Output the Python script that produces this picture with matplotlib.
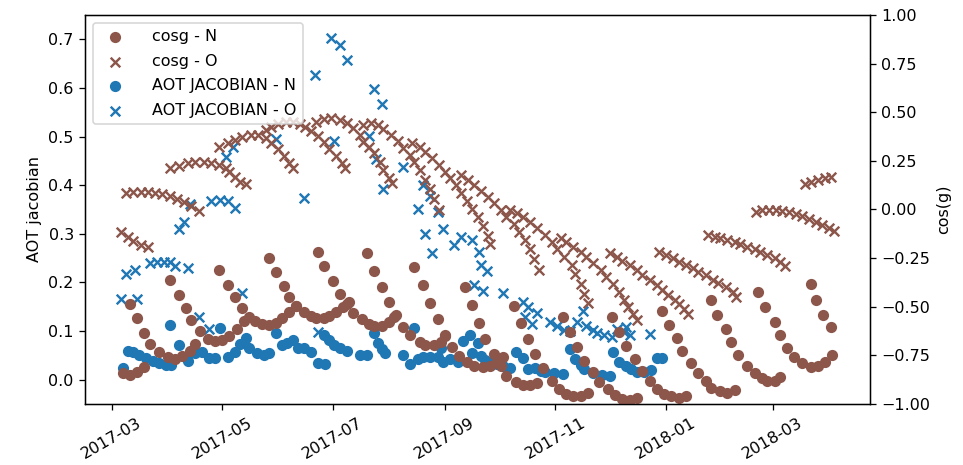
import matplotlib
matplotlib.use("Agg")
import matplotlib.pyplot as plt
import matplotlib.dates as mdates
import pandas as pd

BASE = "2017-03-01"

# cos(g) - N  (days since 2017-03-01, value)
cosg_n_days = [6, 10, 14, 18,
               10, 14, 18, 21, 26, 31, 35, 39, 43, 46,
               32, 37, 41, 44, 49, 53, 57, 61, 65, 69, 73,
               59, 64, 68, 72, 76, 79, 83, 87, 91, 94, 98, 102,
               87, 91, 95, 98, 102, 106, 110, 113, 117, 120, 124, 128, 131,
               114, 117, 122, 126, 130, 133, 138, 142, 145, 149, 153, 156,
               141, 145, 149, 153, 157, 161, 165, 170, 173, 178, 182, 184,
               167, 172, 176, 180, 184, 188, 192, 196, 200, 205, 209, 213, 216,
               195, 199, 203, 206, 211, 215, 218, 223, 227, 231, 235,
               222, 226, 230, 234, 238, 243, 247, 251, 255, 259, 263,
               249, 253, 257, 261, 266, 269, 274, 278, 282, 286, 290,
               276, 280, 284, 289, 293, 297, 301, 305, 309, 313, 317,
               304, 308, 312, 315, 320, 324, 328, 331, 336, 340, 344,
               331, 334, 339, 342, 346, 351, 355, 359, 362, 366, 369,
               357, 361, 366, 369, 373, 377, 381, 386, 390, 394, 398,
               386, 389, 393, 397]
cosg_n_vals = [-0.838, -0.849, -0.833, -0.807,
               -0.484, -0.556, -0.633, -0.689, -0.730, -0.756, -0.766, -0.751, -0.725, -0.689,
               -0.361, -0.438, -0.505, -0.566, -0.623, -0.664, -0.674, -0.669, -0.648, -0.612, -0.571,
               -0.309, -0.386, -0.448, -0.505, -0.551, -0.571, -0.587, -0.592, -0.582, -0.556, -0.525, -0.494,
               -0.248, -0.320, -0.392, -0.448, -0.494, -0.525, -0.546, -0.556, -0.556, -0.546, -0.525, -0.499, -0.474,
               -0.217, -0.289, -0.366, -0.433, -0.484, -0.530, -0.561, -0.587, -0.597, -0.597, -0.576, -0.551,
               -0.222, -0.315, -0.397, -0.474, -0.540, -0.602, -0.643, -0.679, -0.694, -0.694, -0.679, -0.648,
               -0.294, -0.386, -0.479, -0.561, -0.643, -0.705, -0.751, -0.782, -0.802, -0.807, -0.802, -0.782, -0.756,
               -0.397, -0.489, -0.582, -0.664, -0.741, -0.802, -0.854, -0.884, -0.900, -0.900, -0.890,
               -0.494, -0.582, -0.664, -0.741, -0.813, -0.879, -0.920, -0.946, -0.961, -0.961, -0.941,
               -0.551, -0.628, -0.705, -0.777, -0.833, -0.884, -0.920, -0.951, -0.972, -0.977, -0.967,
               -0.551, -0.628, -0.700, -0.766, -0.828, -0.879, -0.920, -0.946, -0.961, -0.967, -0.961,
               -0.520, -0.592, -0.659, -0.725, -0.787, -0.838, -0.879, -0.915, -0.931, -0.941, -0.926,
               -0.463, -0.540, -0.612, -0.679, -0.746, -0.802, -0.838, -0.864, -0.879, -0.879, -0.859,
               -0.422, -0.499, -0.576, -0.643, -0.710, -0.756, -0.787, -0.807, -0.802, -0.782, -0.746,
               -0.381, -0.463, -0.540, -0.602]

# cos(g) - O
cosg_o_days = [5, 9, 12, 16, 20,
               8, 12, 16, 20, 24, 28, 32, 36, 40, 44, 48,
               32, 37, 42, 46, 51, 55, 59, 63, 65, 68, 71, 74,
               59, 64, 68, 72, 77, 81, 85, 88, 92, 95, 98, 100,
               85, 88, 92, 96, 100, 104, 107, 110, 114, 117, 120, 124, 127, 129,
               113, 117, 121, 126, 130, 133, 137, 139, 142, 145, 148, 150, 153, 155,
               139, 143, 147, 150, 154, 158, 161, 165, 167, 170, 173, 176, 178, 181,
               166, 170, 173, 177, 181, 184, 187, 190, 193, 196, 199, 202, 205, 208, 209,
               193, 197, 200, 204, 208, 211, 215, 218, 222, 225, 228, 231, 233, 236,
               220, 224, 227, 231, 235, 239, 243, 246, 250, 254, 256, 259, 261, 263,
               248, 251, 255, 259, 262, 266, 270, 273, 277, 280, 283, 285, 288, 290,
               275, 279, 282, 286, 290, 293, 297, 301, 304, 307, 311, 313, 316, 318,
               302, 306, 310, 313, 317, 321, 324, 328, 332, 335, 339, 343, 345,
               329, 333, 336, 340, 344, 347, 351, 355, 358, 362, 366, 369, 372,
               356, 359, 363, 367, 370, 374, 378, 381, 385, 389, 392, 396, 399,
               383, 386, 390, 394, 397]
cosg_o_vals = [-0.114, -0.140, -0.160, -0.181, -0.191,
               0.086, 0.091, 0.091, 0.091, 0.086, 0.081, 0.071, 0.055, 0.040, 0.019, -0.006,
               0.214, 0.225, 0.240, 0.245, 0.245, 0.240, 0.230, 0.214, 0.194, 0.168, 0.142, 0.132,
               0.322, 0.343, 0.358, 0.374, 0.384, 0.384, 0.368, 0.343, 0.312, 0.276, 0.240, 0.214,
               0.410, 0.425, 0.440, 0.451, 0.451, 0.440, 0.425, 0.404, 0.379, 0.348, 0.312, 0.276, 0.240, 0.214,
               0.451, 0.466, 0.471, 0.461, 0.445, 0.420, 0.384, 0.348, 0.322, 0.291, 0.245, 0.204, 0.163, 0.137,
               0.435, 0.445, 0.435, 0.415, 0.384, 0.353, 0.317, 0.281, 0.245, 0.204, 0.153, 0.107, 0.055, -0.001,
               0.343, 0.322, 0.297, 0.266, 0.230, 0.194, 0.163, 0.127, 0.086, 0.045, 0.004, -0.037, -0.083, -0.135, -0.176,
               0.178, 0.153, 0.127, 0.096, 0.065, 0.035, -0.001, -0.037, -0.073, -0.114, -0.155, -0.202, -0.253, -0.309,
               -0.001, -0.017, -0.037, -0.063, -0.094, -0.130, -0.166, -0.202, -0.243, -0.284, -0.330, -0.381, -0.433, -0.479,
               -0.145, -0.166, -0.191, -0.217, -0.243, -0.273, -0.309, -0.345, -0.381, -0.422, -0.463, -0.499, -0.535, -0.566,
               -0.222, -0.243, -0.263, -0.284, -0.309, -0.335, -0.361, -0.386, -0.412, -0.438, -0.463, -0.484, -0.510, -0.535,
               -0.217, -0.232, -0.248, -0.268, -0.284, -0.299, -0.320, -0.335, -0.361, -0.376, -0.397, -0.422, -0.448,
               -0.130, -0.140, -0.145, -0.155, -0.166, -0.176, -0.191, -0.202, -0.217, -0.232, -0.248, -0.268, -0.289,
               -0.012, -0.001, -0.001, -0.001, -0.006, -0.012, -0.022, -0.032, -0.047, -0.063, -0.078, -0.094, -0.109,
               0.132, 0.142, 0.153, 0.163, 0.168]

# AOT jacobian - N
aot_n_days = [6, 9, 12, 15, 19, 23, 26, 30, 32, 33, 37, 42, 46, 50, 54, 57, 60, 64, 68, 71,
              74, 76, 80, 84, 87, 91, 94, 97, 100, 103, 106, 110, 114, 117, 118, 120, 123, 126,
              130, 137, 141, 145, 147, 149, 151, 161, 165, 167, 169, 172, 176, 180, 182, 183,
              187, 191, 194, 198, 199, 202, 204, 206, 209, 213, 216, 220, 223, 227, 230, 234,
              237, 239, 244, 249, 253, 256, 259, 261, 266, 271, 275, 277, 280, 284, 287, 290,
              294, 298, 301, 304]
aot_n_vals = [0.025, 0.060, 0.058, 0.051, 0.045, 0.039, 0.035, 0.031, 0.113, 0.031, 0.072, 0.039,
              0.056, 0.058, 0.045, 0.045, 0.107, 0.047, 0.058, 0.074, 0.086, 0.066, 0.056, 0.051,
              0.056, 0.097, 0.072, 0.076, 0.082, 0.066, 0.066, 0.058, 0.035, 0.093, 0.033, 0.082,
              0.072, 0.066, 0.060, 0.051, 0.051, 0.097, 0.076, 0.064, 0.056, 0.051, 0.033, 0.107,
              0.043, 0.047, 0.047, 0.047, 0.066, 0.037, 0.043, 0.037, 0.080, 0.093, 0.056, 0.076,
              0.049, 0.041, 0.037, 0.033, 0.029, 0.025, 0.058, 0.045, 0.023, 0.025, 0.019, 0.016,
              0.014, 0.012, 0.064, 0.043, 0.031, 0.023, 0.014, 0.010, 0.008, 0.058, 0.037, 0.029,
              0.023, 0.016, 0.016, 0.021, 0.045, 0.045]

# AOT jacobian - O
aot_o_days = [5, 8, 13, 14, 21, 25, 29, 32, 35, 37, 40, 42, 43, 48, 54, 55, 60, 63, 64, 67,
              68, 72, 91, 106, 112, 114, 121, 123, 126, 130, 142, 145, 146, 149, 150, 161, 169,
              172, 173, 176, 177, 180, 183, 189, 193, 199, 200, 203, 204, 205, 207, 216, 227,
              228, 230, 232, 235, 242, 246, 250, 253, 257, 260, 262, 266, 268, 272, 276, 279,
              283, 284, 286, 297]
aot_o_vals = [0.165, 0.218, 0.226, 0.167, 0.241, 0.243, 0.243, 0.243, 0.233, 0.309, 0.325, 0.230,
              0.362, 0.128, 0.105, 0.368, 0.370, 0.457, 0.368, 0.479, 0.354, 0.179, 0.494, 0.374,
              0.626, 0.099, 0.702, 0.490, 0.689, 0.658, 0.502, 0.597, 0.453, 0.566, 0.393, 0.438,
              0.350, 0.401, 0.300, 0.377, 0.261, 0.344, 0.309, 0.278, 0.294, 0.288, 0.195, 0.263,
              0.235, 0.183, 0.224, 0.179, 0.160, 0.130, 0.150, 0.115, 0.138, 0.119, 0.111, 0.103,
              0.101, 0.119, 0.142, 0.111, 0.103, 0.097, 0.093, 0.088, 0.105, 0.099, 0.109, 0.091,
              0.095]


def to_dates(days):
    return pd.Timestamp(BASE) + pd.to_timedelta(days, unit="D")


BROWN = "tab:brown"
BLUE = "tab:blue"

fig = plt.figure(figsize=(963 / 115, 465 / 115), dpi=115)
ax = fig.add_subplot(111)
fig.subplots_adjust(left=0.0883, right=0.9034, bottom=0.131, top=0.968)

h3 = ax.scatter(to_dates(aot_n_days), aot_n_vals, color=BLUE, marker="o",
                label="AOT JACOBIAN - N")
h4 = ax.scatter(to_dates(aot_o_days), aot_o_vals, color=BLUE, marker="x",
                label="AOT JACOBIAN - O")
ax.set_ylabel("AOT jacobian")
ax.set_ylim(-0.05, 0.75)

ax2 = ax.twinx()
h1 = ax2.scatter(to_dates(cosg_n_days), cosg_n_vals, color=BROWN, marker="o",
                 label="cosg - N")
h2 = ax2.scatter(to_dates(cosg_o_days), cosg_o_vals, color=BROWN, marker="x",
                 label="cosg - O")
ax2.set_ylim(-1, 1)
ax2.set_ylabel("cos(g)")

ax.xaxis.set_major_locator(mdates.MonthLocator(bymonth=[1, 3, 5, 7, 9, 11]))
ax.xaxis.set_major_formatter(mdates.DateFormatter("%Y-%m"))
for lab in ax.get_xticklabels():
    lab.set_rotation(30)

ax2.legend(handles=[h1, h2, h3, h4], loc="upper left",
           labelspacing=0.6, handletextpad=1.3)

fig.savefig("out.png", dpi=115)
